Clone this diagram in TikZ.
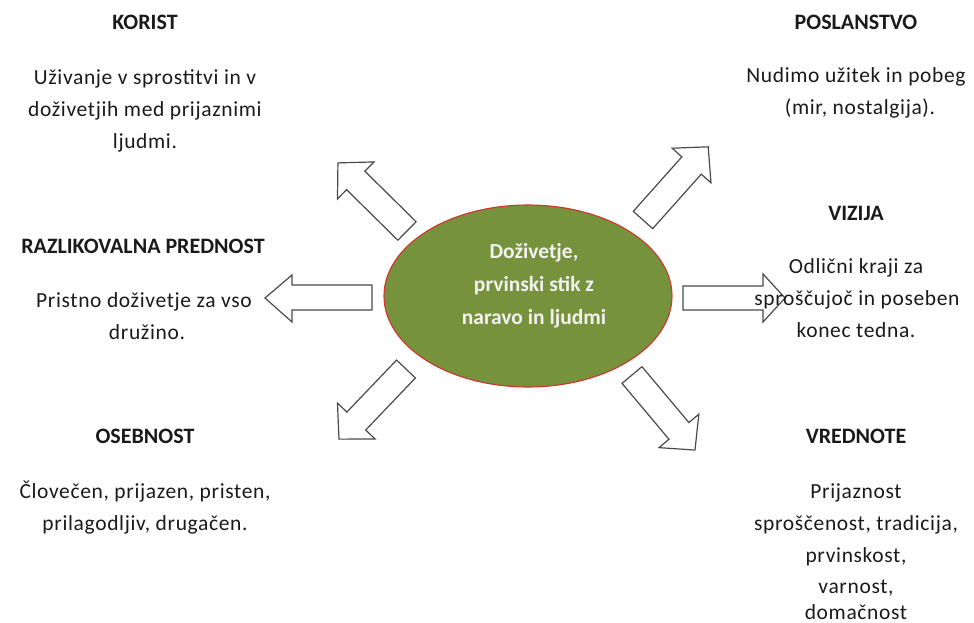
\documentclass[tikz,border=0pt]{standalone}
\usepackage{fontspec}
\setmainfont{Carlito}
\newfontfamily\bodyfont{Carlito}[LetterSpace=3]
\usetikzlibrary{shapes.geometric}

\definecolor{olive}{HTML}{76923C}
\definecolor{rimred}{HTML}{D0342C}
\definecolor{arrowgray}{HTML}{4A4A4A}
\definecolor{inktext}{HTML}{1A1A1A}

\tikzset{
  head/.style={anchor=base, inner sep=0pt, text=inktext,
    font=\fontsize{22}{26}\selectfont\bfseries},
  body/.style={anchor=base, inner sep=0pt, text=inktext,
    font=\fontsize{21.5}{26}\selectfont\bodyfont},
  coretext/.style={anchor=base, inner sep=0pt, text=white!95!black,
    font=\fontsize{21.5}{26}\selectfont\bfseries},
  arrowshape/.style={draw=arrowgray, fill=white, line width=1.2pt, line join=miter},
}

% block arrow: tail centre, direction angle, total length, head length
\newcommand\blockarrow[4]{%
  \draw[arrowshape, shift={(#1)}, rotate=#2]
    (0,-13) -- ({#3-#4},-13) -- ({#3-#4},-26) -- (#3,0)
    -- ({#3-#4},26) -- ({#3-#4},13) -- (0,13) -- cycle;}

% one line of text at a given baseline
\newcommand\tline[5]{\node[#1] (#2) at (#3,#4) {#5};}

\begin{document}
\begin{tikzpicture}[x=1pt, y=-1pt]
\useasboundingbox (0,0) rectangle (974,623);

% central ellipse
\node[ellipse, draw=rimred, fill=olive, line width=1.1pt,
      minimum width=288pt, minimum height=182pt, inner sep=0pt] (core) at (528,296) {};
\tline{coretext}{c1}{534}{258}{Doživetje,}
\tline{coretext}{c2}{534}{291}{prvinski stik z}
\tline{coretext}{c3}{534}{324}{naravo in ljudmi}

% arrows leaving the ellipse
\blockarrow{407,231}{135.4}{97}{25}
\blockarrow{643,220}{48.3}{98}{25}
\blockarrow{406,369}{-133.7}{97}{25}
\blockarrow{632,375}{-50}{98}{25}
\draw[arrowshape] (683,286) -- (763,286) -- (763,274) -- (785,298)
  -- (763,322) -- (763,310) -- (683,310) -- cycle;
\draw[arrowshape] (372,285) -- (292,285) -- (292,275) -- (265,298)
  -- (292,322) -- (292,310) -- (372,310) -- cycle;

% KORIST
\tline{head}{korist}{145}{30}{KORIST}
\tline{body}{k1}{145}{85}{Uživanje v sprostitvi in v}
\tline{body}{k2}{145}{117}{doživetjih med prijaznimi}
\tline{body}{k3}{145}{149}{ljudmi.}

% RAZLIKOVALNA PREDNOST
\tline{head}{razl}{143}{253}{RAZLIKOVALNA PREDNOST}
\tline{body}{r1}{144}{307}{Pristno doživetje za vso}
\tline{body}{r2}{147}{339}{družino.}

% OSEBNOST
\tline{head}{oseb}{145}{443}{OSEBNOST}
\tline{body}{o1}{145}{498}{Človečen, prijazen, pristen,}
\tline{body}{o2}{145}{530}{prilagodljiv, drugačen.}

% POSLANSTVO
\tline{head}{posl}{856}{30}{POSLANSTVO}
\tline{body}{p1}{856}{83}{Nudimo užitek in pobeg}
\tline{body}{p2}{860}{115}{(mir, nostalgija).}

% VIZIJA
\tline{head}{vizija}{856}{220}{VIZIJA}
\tline{body}{v1}{856}{273}{Odlični kraji za}
\tline{body}{v2}{857}{305}{sproščujoč in poseben}
\tline{body}{v3}{856}{337}{konec tedna.}

% VREDNOTE
\tline{head}{vred}{856}{443}{VREDNOTE}
\tline{body}{w1}{856}{498}{Prijaznost}
\tline{body}{w2}{856}{530}{sproščenost, tradicija,}
\tline{body}{w3}{856}{562}{prvinskost,}
\tline{body}{w4}{856}{593}{varnost,}
\tline{body}{w5}{856}{619}{domačnost}
\end{tikzpicture}
\end{document}
